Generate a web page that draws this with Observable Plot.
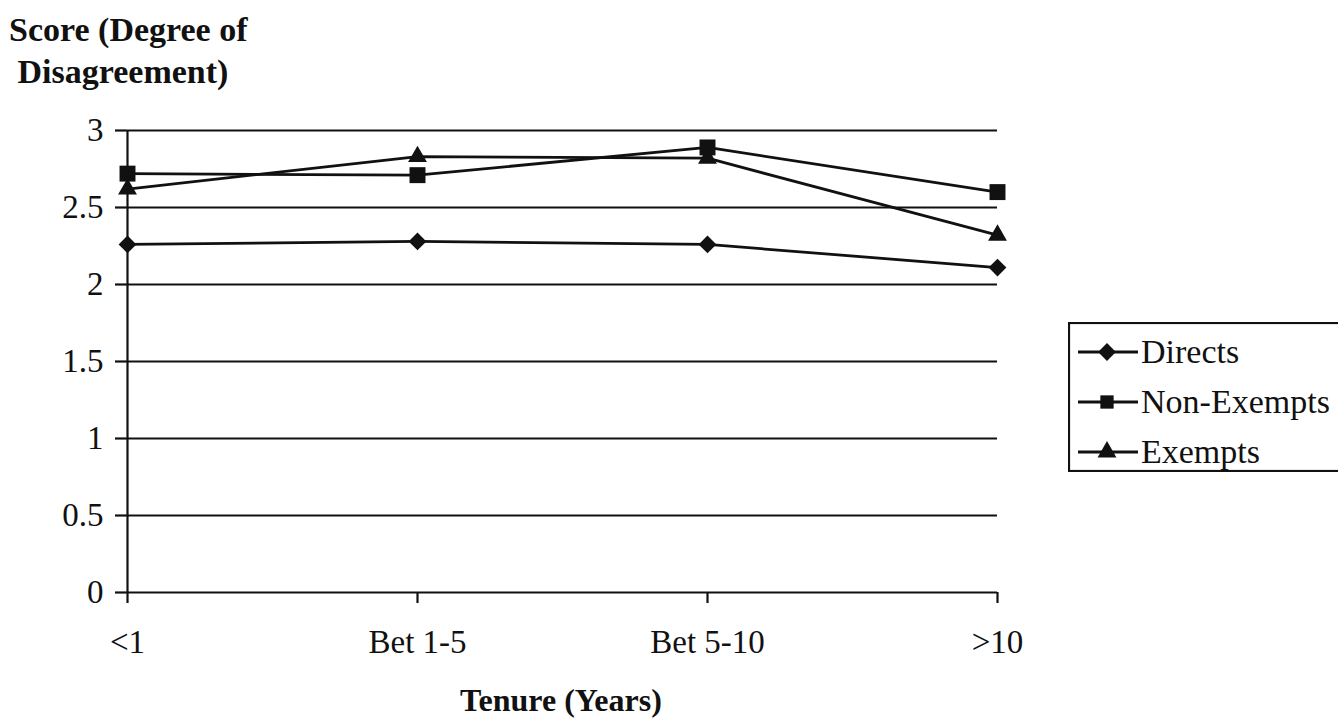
<!DOCTYPE html>
<html>
<head>
<meta charset="utf-8">
<script src="https://cdn.jsdelivr.net/npm/d3@7"></script>
<script src="https://cdn.jsdelivr.net/npm/@observablehq/plot@0.6"></script>
<style>
  html, body { margin: 0; padding: 0; background: #fff; }
  #wrap { position: relative; width: 1338px; height: 720px; overflow: hidden; font-family: "Liberation Serif", "Times New Roman", serif; color: #111; }
  #chart { position: absolute; left: 0; top: 0; }
  .ytitle { position: absolute; left: 9px; top: 9px; font-weight: bold; font-size: 34px; line-height: 42px; white-space: nowrap; }
  .xtitle { position: absolute; left: 0; width: 1122px; text-align: center; top: 680px; font-weight: bold; font-size: 32px; line-height: 40px; }
  #legend { position: absolute; left: 1068px; top: 322px; }
</style>
</head>
<body>
<div id="wrap">
  <div id="chart"></div>
  <div class="ytitle">Score (Degree of<br>&nbsp;Disagreement)</div>
  <div class="xtitle">Tenure (Years)</div>
  <svg id="legend" width="270" height="150"></svg>
</div>
<script>
const categories = ["<1", "Bet 1-5", "Bet 5-10", ">10"];
const directs = [2.26, 2.28, 2.26, 2.11];
const nonExempts = [2.72, 2.71, 2.89, 2.60];
const exempts = [2.62, 2.83, 2.82, 2.32];
const yTicks = [0, 0.5, 1, 1.5, 2, 2.5, 3];
const seriesNames = ["Directs", "Non-Exempts", "Exempts"];

const rows = [];
[directs, nonExempts, exempts].forEach((vals, s) => {
  vals.forEach((v, i) => rows.push({series: seriesNames[s], tenure: categories[i], score: v}));
});
const sel = name => rows.filter(d => d.series === name);

const ink = "#111";
const chart = Plot.plot({
  width: 1338,
  height: 720,
  marginLeft: 126,
  marginRight: 341,
  marginTop: 130,
  marginBottom: 128,
  style: { fontFamily: "'Liberation Serif', 'Times New Roman', serif", fontSize: "33px", color: ink, background: "transparent" },
  x: { type: "point", domain: categories, padding: 0, label: null },
  y: { domain: [0, 3], ticks: yTicks, label: null },
  marks: [
    Plot.ruleY(yTicks, { stroke: ink, strokeWidth: 2.2 }),
    Plot.axisY({ ticks: yTicks, tickSize: 11, tickPadding: 12, tickFormat: d => String(d), stroke: ink, strokeWidth: 2.2, fill: ink, label: null }),
    Plot.axisX({ tickSize: 11, tickPadding: 26, stroke: ink, strokeWidth: 2.2, fill: ink, label: null }),
    Plot.ruleX([categories[0]], { y1: 0, y2: 3, stroke: ink, strokeWidth: 2.2 }),
    Plot.line(sel("Directs"), { x: "tenure", y: "score", stroke: ink, strokeWidth: 2.8 }),
    Plot.line(sel("Non-Exempts"), { x: "tenure", y: "score", stroke: ink, strokeWidth: 2.8 }),
    Plot.line(sel("Exempts"), { x: "tenure", y: "score", stroke: ink, strokeWidth: 2.8 }),
    Plot.dot(sel("Directs"), { x: "tenure", y: "score", symbol: "diamond2", r: 8, fill: ink, stroke: "none" }),
    Plot.dot(sel("Non-Exempts"), { x: "tenure", y: "score", symbol: "square", r: 9, fill: ink, stroke: "none" }),
    Plot.dot(sel("Exempts"), { x: "tenure", y: "score", symbol: "triangle", r: 7, fill: ink, stroke: "none" })
  ]
});
document.getElementById("chart").appendChild(chart);

// legend
const legend = d3.select("#legend");
legend.append("rect").attr("x", 1).attr("y", 1).attr("width", 280).attr("height", 148)
  .attr("fill", "#fff").attr("stroke", ink).attr("stroke-width", 2.2);
const symbolsFor = { "Directs": d3.symbolDiamond2, "Non-Exempts": d3.symbolSquare, "Exempts": d3.symbolTriangle };
const sizesFor = { "Directs": 8, "Non-Exempts": 7.5, "Exempts": 7 };
seriesNames.forEach((name, i) => {
  const cy = 30 + i * 50;
  const g = legend.append("g").attr("transform", `translate(0,${cy})`);
  g.append("line").attr("x1", 10).attr("x2", 70).attr("stroke", ink).attr("stroke-width", 2.8);
  const r = sizesFor[name];
  g.append("path").attr("d", d3.symbol(symbolsFor[name], Math.PI * r * r)()).attr("transform", "translate(39,0)").attr("fill", ink);
  g.append("text").attr("x", 73).attr("y", 11).attr("fill", ink)
    .attr("font-family", "'Liberation Serif', 'Times New Roman', serif").attr("font-size", 34).text(name);
});
</script>
</body>
</html>
